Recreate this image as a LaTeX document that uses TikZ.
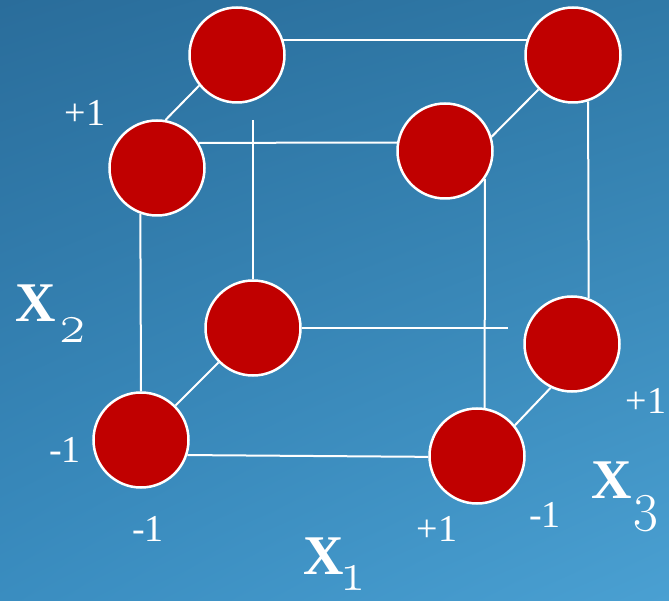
\documentclass[tikz,border=0pt]{standalone}
\usepackage{fontspec}
\usetikzlibrary{shadings}
\setmainfont{Liberation Serif}
\newfontfamily\osf[Numbers=OldStyle]{Latin Modern Roman}
\definecolor{bgUL}{HTML}{2A6D9B}
\definecolor{bgUR}{HTML}{2F79A7}
\definecolor{bgLL}{HTML}{3A8DC0}
\definecolor{bgLR}{HTML}{4AA0D2}
\definecolor{nodered}{HTML}{C00000}
\begin{document}
\begin{tikzpicture}[x=1pt,y=-1pt,
  vertex/.style={circle, minimum size=95pt, inner sep=0pt, fill=nodered, draw=white, line width=2.5pt},
  edge/.style={draw=white, line width=2pt},
  lbl/.style={text=white, font=\fontsize{38}{38}\selectfont, anchor=base, inner sep=0pt},
  axisx/.style={text=white, font=\fontsize{56}{56}\selectfont\bfseries, anchor=base west, inner sep=0pt},
  axissub/.style={text=white, font=\fontsize{54}{54}\selectfont\osf, anchor=base west, inner sep=0pt, text depth=0pt}]
\shade[upper left=bgUL, upper right=bgUR, lower left=bgLL, lower right=bgLR] (0,0) rectangle (669,601);
\useasboundingbox (0,0) rectangle (669,601);

\node[vertex] (A) at (237,55) {};
\node[vertex] (B) at (573,55) {};
\node[vertex] (C) at (157,168) {};
\node[vertex] (D) at (445,151) {};
\node[vertex] (E) at (253,328) {};
\node[vertex] (F) at (572,344) {};
\node[vertex] (G) at (141,440) {};
\node[vertex] (H) at (477,456) {};
\coordinate (Etop) at (253,120);
\coordinate (Fend) at (508,328);

\draw[edge] (A.18) -- (B.162);
\draw[edge] (A.219) -- (C.80);
\draw[edge] (C.31) -- (D.170);
\draw[edge] (B.225) -- (D.17);
\draw[edge] (B.288) -- (F.70);
\draw[edge] (D.325) -- (H.81);
\draw[edge] (C.250) -- (G.90);
\draw[edge] (Etop) -- (E.north);
\draw[edge] (E.east) -- (Fend);
\draw[edge] (E.225) -- (G.45);
\draw[edge] (G.342) -- (H.181);
\draw[edge] (F.244) -- (H.39);

\node[lbl] (l1) at (85,126) {+1};
\node[lbl] (l2) at (65,462) {-1};
\node[lbl] (l3) at (148,541) {-1};
\node[lbl] (l4) at (437,541) {+1};
\node[lbl] (l5) at (545,527) {-1};
\node[lbl] (l6) at (646,413) {+1};

\node[axisx] (x2) at (15,322) {X};
\node[axissub] (x2s) at (58,342) {2};
\node[axisx] (x1) at (303,574) {X};
\node[axissub] (x1s) at (343,590) {1};
\node[axisx] (x3) at (591,498) {X};
\node[axissub] (x3s) at (631,520) {3};
\end{tikzpicture}
\end{document}
